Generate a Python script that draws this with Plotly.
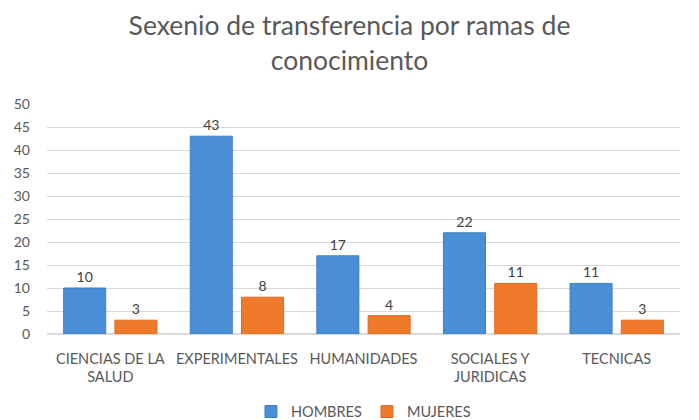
import plotly.graph_objects as go

ramas = ["CIENCIAS DE LA<br>SALUD", "EXPERIMENTALES", "HUMANIDADES", "SOCIALES Y<br>JURIDICAS", "TECNICAS"]
hombres = [10, 43, 17, 22, 11]
mujeres = [3, 8, 4, 11, 3]

fig = go.Figure()
fig.add_trace(go.Bar(
    x=ramas, y=hombres, name="HOMBRES",
    marker=dict(color="#4A8FD6", line=dict(color="#3F7FC4", width=1)),
    text=hombres, textposition="outside", cliponaxis=False,
    textfont=dict(size=14, color="#404040"),
))
fig.add_trace(go.Bar(
    x=ramas, y=mujeres, name="MUJERES",
    marker=dict(color="#F07A2C", line=dict(color="#E06B20", width=1)),
    text=mujeres, textposition="outside", cliponaxis=False,
    textfont=dict(size=14, color="#404040"),
))

fig.update_layout(
    width=699, height=420,
    margin=dict(l=47, r=19, t=104, b=86),
    paper_bgcolor="white", plot_bgcolor="white",
    font=dict(family="Lato, Open Sans, sans-serif", color="#595959"),
    title=dict(
        text="Sexenio de transferencia por ramas de<br>conocimiento",
        x=0.5, xanchor="center", y=0.916, yanchor="top",
        font=dict(size=26.5, color="#595959"),
    ),
    barmode="group", bargap=0.19, bargroupgap=0.18,
    showlegend=True,
    legend=dict(orientation="h", x=0.52, xanchor="center", xref="container",
                y=0.02, yanchor="middle", yref="container",
                font=dict(size=14.5, color="#595959"), itemwidth=30),
)
fig.update_yaxes(range=[0, 50], dtick=5, showgrid=True, gridcolor="#D9D9D9",
                 zeroline=True, zerolinecolor="#D9D9D9", tickfont=dict(size=14),
                 ticklabelstandoff=16, automargin=False)
fig.update_xaxes(tickfont=dict(size=14.5), showline=False, ticks="",
                 ticklabelstandoff=14, automargin=False)

# page body has a default 8px margin, drop it so the chart sits at 0,0
fig.write_html("out.html", config={"displayModeBar": False},
               post_script="document.body.style.margin='0px';")
